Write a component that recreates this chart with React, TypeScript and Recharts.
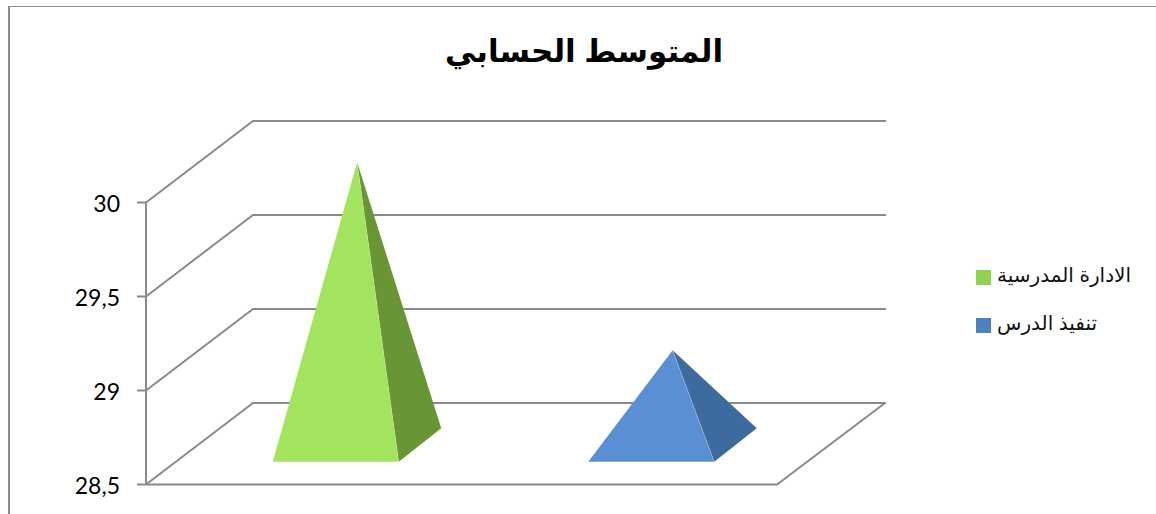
import React from "react";
import { BarChart, Bar, XAxis, YAxis, CartesianGrid, Legend } from "recharts";

const categories = ["الادارة المدرسية", "تنفيذ الدرس"];
const values = [30, 29];
const yTicks = [28.5, 29, 29.5, 30];
const faceColors = ["#A2E45D", "#5A90D3"];
const sideColors = ["#6A9534", "#3E6B9D"];
const legendColors = ["#92D050", "#4F81BD"];
const chartTitle = "المتوسط الحسابي";

const rows = categories.map((category, i) => ({ category, value: values[i] }));

// Oblique projection of the chart's depth axis.
const DEPTH_X = 107;
const DEPTH_Y = -81.5;
const GRID = "#8a8a8a";

function Pyramid(props: any) {
  const { x, y, width, height, index } = props;
  const left = x + DEPTH_X * 0.3;
  const right = left + width;
  const baseY = y + height + DEPTH_Y * 0.28;
  const cornerX = right + 42.5;
  const cornerY = baseY - 33.5;
  const apexX = x + width / 2 + DEPTH_X / 2;
  const apexY = y + DEPTH_Y / 2 + 0.5;
  return (
    <g>
      <polygon points={`${right},${baseY} ${cornerX},${cornerY} ${apexX},${apexY}`} fill={sideColors[index]} />
      <polygon points={`${left},${baseY} ${right},${baseY} ${apexX},${apexY}`} fill={faceColors[index]} />
      <line x1={right} y1={baseY} x2={apexX} y2={apexY} stroke="#fff" strokeOpacity={0.25} strokeWidth={0.8} />
    </g>
  );
}

// Each horizontal grid line folds back along the side wall, then runs across the back wall.
function WallLine(props: any) {
  const { x1, x2, y1 } = props;
  const backX = x1 + DEPTH_X;
  const backY = y1 + DEPTH_Y;
  const style = { fill: "none", stroke: GRID, strokeWidth: 2 };
  return (
    <g>
      <polyline points={`${x1},${y1} ${backX},${backY} ${x2 + DEPTH_X + 2},${backY}`} {...style} />
      {y1 > 480 ? <polyline points={`${x1},${y1} ${x2},${y1} ${x2 + DEPTH_X + 1},${backY}`} {...style} /> : null}
    </g>
  );
}

function LegendList() {
  return (
    <div>
      {categories.map((name, i) => (
        <div key={name} style={{ display: "flex", alignItems: "center", height: 48 }}>
          <span style={{ width: 15, height: 15, background: legendColors[i], marginRight: 6, flex: "none" }} />
          <span
            style={{
              fontFamily: "'Liberation Sans', 'DejaVu Sans', sans-serif",
              fontSize: 20,
              color: "#111",
              whiteSpace: "nowrap",
              position: "relative",
              top: -2,
            }}
          >
            {name}
          </span>
        </div>
      ))}
    </div>
  );
}

export default function App() {
  return (
    <div style={{ position: "absolute", left: 0, top: 0, width: 1156, height: 514, overflow: "hidden", background: "#fff" }}>
      <div style={{ position: "absolute", left: 8, top: 5.5, width: 1148, height: 509, borderLeft: "2px solid #8c8c8c", borderTop: "1.5px solid #8c8c8c" }} />
      <div
        style={{
          position: "absolute",
          left: 384,
          width: 400,
          top: 33,
          textAlign: "center",
          fontFamily: "'Liberation Sans', 'DejaVu Sans', sans-serif",
          fontWeight: 700,
          fontSize: 31,
          color: "#000",
          direction: "rtl",
        }}
      >
        {chartTitle}
      </div>
      <BarChart
        width={1156}
        height={514}
        data={rows}
        barCategoryGap="30%"
        margin={{ top: 202.5, right: 379, bottom: 29.5, left: 46 }}
        style={{ position: "absolute", left: 0, top: 0 }}
      >
        <CartesianGrid vertical={false} horizontal={(p: any) => <WallLine key={p.index} {...p} />} />
        <XAxis dataKey="category" hide />
        <YAxis
          width={100}
          domain={[28.5, 30]}
          ticks={yTicks}
          tickFormatter={(v: number) => String(v).replace(".", ",")}
          interval={0}
          axisLine={{ stroke: GRID, strokeWidth: 2 }}
          tickLine={{ stroke: GRID, strokeWidth: 2 }}
          tickSize={9}
          tickMargin={17}
          tick={{ fontFamily: "Lato, sans-serif", fontSize: 23, fill: "#000", dy: 1 }}
        />
        <Bar dataKey="value" isAnimationActive={false} shape={Pyramid} />
        <Legend
          layout="vertical"
          align="center"
          verticalAlign="middle"
          content={() => <LegendList />}
          wrapperStyle={{ position: "absolute", left: 976, top: 253, width: 175, bottom: "auto", right: "auto" }}
        />
      </BarChart>
    </div>
  );
}
